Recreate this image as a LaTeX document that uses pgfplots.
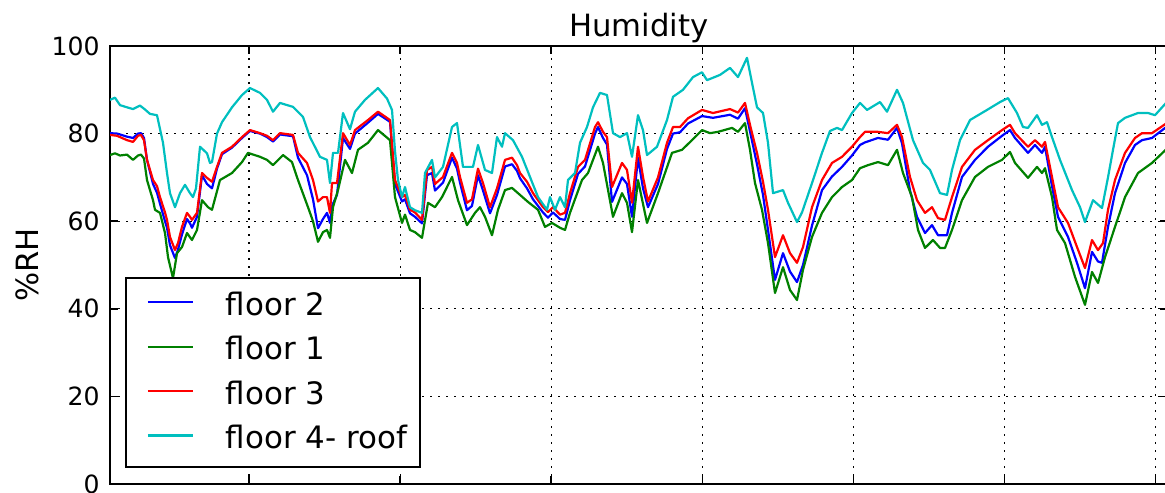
\documentclass[border=0pt]{standalone}
\usepackage{fontspec}
\setmainfont{DejaVu Sans}
\usepackage{pgfplots}
\pgfplotsset{compat=1.18}
\definecolor{mplb}{HTML}{0000FF}
\definecolor{mplg}{HTML}{008000}
\definecolor{mplr}{HTML}{FF0000}
\definecolor{mplc}{HTML}{00BFBF}
\begin{document}
\begin{tikzpicture}
\begin{axis}[
  name=ax, at={(0,0)}, anchor=south west,
  scale only axis, width=529bp, height=219bp,
  xmin=110, xmax=1168, ymin=0, ymax=100,
  xtick={249,400.1,551.2,702.3,853.4,1004.5,1155.6},
  xticklabels={},
  ytick={0,20,40,60,80,100},
  grid=major,
  grid style={black, line width=0.6bp, dash pattern=on 1bp off 3bp},
  axis line style={line width=1bp},
  tick style={black, line width=0.8bp},
  major tick length=4bp,
  tick align=inside,
  /pgf/number format/assume math mode=true,
  tick label style={font=\fontsize{12.6}{14}\selectfont},
  yticklabel style={inner sep=0pt, xshift=-5bp},
  title={Humidity},
  every axis title/.style={at={(0.5,1)}, anchor=base, yshift=4.5bp, inner sep=0pt, font=\fontsize{15.4}{18}\selectfont},
  ylabel={\%RH},
  ylabel style={at={(axis description cs:-0.0784,0.5)}, anchor=center, inner sep=0pt, font=\fontsize{15.4}{18}\selectfont},
  legend cell align=left,
  legend image code/.code={\path[draw=none] (0bp,0bp) -- (50bp,0bp); \draw[#1] (11bp,6.5bp) -- (33.5bp,6.5bp);},
  legend style={at={(0.01418,0.03653)}, anchor=south west, draw=black, line width=1bp, fill=white,
    inner xsep=0pt, inner ysep=6.7bp, row sep=7.7bp, column sep=0pt,
    font=\fontsize{15.5}{18}\selectfont,
    nodes={inner sep=0pt, text height=12bp, text depth=2.5bp, anchor=base west}},
  every axis plot/.append style={line width=1.1bp, line join=round},
]
% floor 2
\addplot[mplb] coordinates {
(110,80.1)(117,80)(120,79.8)(127,79.3)(133,79)(138,80)(141,80.1)(144,79)(147,74)(153,68.5)(157,66.5)(160,64)(165,60)(167,58.5)(170,54.5)(175,51.6)(178,53.5)(182,57)(187,60.5)(190,59.5)(192,58.5)(197,61)(202,70.5)(207,68.5)(212,67.5)(217,72)(222,75.3)(232,76.8)(242,79)(250,80.6)(260,80)(267,79.2)(273,78.2)(280,79.8)(293,79.4)(298,74.5)(307,70.5)(313,65)(318,58.4)(323,60.5)(327,61.9)(330,59.6)(332,63.5)(337,66)(343,79)(350,76.5)(355,80)(368,82.5)(378,84.5)(390,82.7)(395,68.5)(402,64.5)(405,65)(410,61.8)(415,61)(422,59.5)(427,70.5)(432,71)(435,67)(443,68.8)(452,74.5)(457,72)(460,68.8)(467,62.5)(472,63.5)(478,70.5)(483,67)(490,61.8)(497,66)(505,72.5)(512,73)(517,71.5)(520,69.8)(527,67.5)(533,65)(543,62)(548,60.8)(553,62)(560,60.5)(565,60.3)(570,64.8)(578,70.8)(585,72.5)(595,80)(598,81.5)(603,79)(607,77.5)(612,64.4)(622,70)(627,68.5)(632,61)(638,74.5)(643,67.5)(648,63.2)(658,68.5)(667,76.5)(673,80)(680,80.3)(688,82.3)(702,84)(713,83.6)(730,84.3)(738,83.4)(745,85.8)(750,80.5)(757,73)(763,66)(768,58)(775,46.6)(783,52.7)(790,48.5)(797,46.1)(803,50)(812,59)(822,67.1)(832,70.2)(842,72.4)(852,75)(860,77.4)(865,78)(878,79)(888,78.6)(897,81.3)(902,77.8)(910,67)(917,61)(925,57.3)(932,59.1)(938,56.8)(947,56.8)(952,61.9)(962,70.1)(975,74)(988,77)(1002,79.5)(1010,80.8)(1015,79)(1028,75.6)(1035,77.4)(1042,75.6)(1045,77)(1052,68)(1058,61)(1068,56.4)(1077,50.5)(1085,44.7)(1092,53)(1098,50.8)(1102,50.5)(1108,58.7)(1115,66.4)(1125,73.3)(1135,77.4)(1142,78.5)(1152,79)(1168,81.8)
};
\addlegendentry{floor 2}
% floor 1
\addplot[mplg] coordinates {
(110,75.1)(115,75.5)(120,75)(127,75.2)(133,74)(138,75)(141,75.2)(144,74.3)(147,69.4)(153,64.8)(155,62.6)(160,61.9)(165,57.3)(168,51.8)(173,47)(177,52.7)(182,54.1)(187,57.3)(192,55.7)(197,58)(202,64.8)(208,63.2)(212,62.6)(220,69.4)(232,71)(242,73.5)(248,75.6)(260,74.7)(267,74)(273,72.8)(283,75.1)(292,73.5)(298,69.4)(308,63.2)(313,60)(318,55.3)(323,57.5)(327,58)(330,56.2)(333,63.2)(338,67.1)(345,74)(352,71)(358,76.3)(368,77.9)(378,80.8)(390,78.5)(395,65.5)(402,59.6)(405,61.5)(410,58)(415,57.5)(422,56.2)(428,64.2)(435,63.2)(442,65.5)(452,70.1)(458,64.8)(467,59.1)(475,61.9)(480,63.2)(485,61)(492,56.8)(498,62.6)(505,67.1)(512,67.6)(518,66.4)(528,64.4)(538,62.6)(545,58.7)(552,59.6)(560,58.5)(565,58)(570,61.9)(582,69.4)(588,71)(598,77)(603,73.3)(613,61)(622,66.4)(627,64.2)(632,57.5)(638,69.4)(647,59.6)(658,66.4)(672,75.6)(682,76.3)(692,78.5)(702,80.8)(710,80.1)(718,80.4)(732,81.3)(738,80.4)(745,82.4)(750,76.3)(755,68.7)(762,62.6)(768,55)(775,43.6)(783,49.5)(790,44.3)(797,42)(803,48.9)(812,56.4)(822,61.9)(832,65.5)(842,67.8)(852,69.4)(860,72.1)(868,72.8)(878,73.5)(888,72.8)(897,76.3)(903,71)(912,65.5)(918,58)(925,53.9)(933,55.7)(940,53.9)(945,53.9)(952,58)(962,64.8)(975,70.1)(988,72.4)(1002,74)(1010,75.8)(1015,73.3)(1028,69.9)(1037,72.4)(1042,71)(1045,72.1)(1052,65.5)(1057,58)(1065,55)(1075,47.3)(1085,40.9)(1092,48.4)(1098,45.9)(1105,51.8)(1115,58.7)(1125,65.5)(1138,71)(1152,73.3)(1168,76.8)
};
\addlegendentry{floor 1}
% floor 3
\addplot[mplr] coordinates {
(110,79.7)(117,79.5)(120,79.2)(127,78.5)(133,78.1)(138,79.5)(141,79.7)(144,78.5)(147,74)(153,69.4)(157,68)(160,65.5)(165,62)(167,60.3)(170,56.4)(175,53.4)(178,55)(182,58.7)(187,61.9)(190,61)(192,60.3)(197,61.9)(202,71)(207,69.9)(212,69)(217,72.4)(222,75.6)(232,77)(242,79.2)(250,80.8)(260,80.1)(267,79.5)(273,78.5)(280,80.1)(293,79.7)(298,75.6)(307,73.3)(313,69.4)(318,64.5)(323,65.5)(327,65.5)(330,61.9)(332,68.7)(337,68.7)(343,80.1)(350,77.4)(355,80.8)(368,83.1)(378,85)(390,83.1)(395,69.4)(402,65.5)(405,66)(410,62.6)(415,62)(422,60.3)(427,71.7)(432,72.4)(435,68.5)(443,70.1)(452,75.6)(457,73.3)(460,70.1)(467,64.2)(472,65)(478,72)(483,68.7)(490,63.2)(497,67.5)(505,74)(512,74.5)(517,72.8)(520,71)(527,69)(533,66.4)(543,63.2)(548,62.1)(553,63.2)(560,61.5)(565,61.9)(570,66.4)(578,72.4)(585,74)(595,81.5)(598,82.6)(603,80.4)(607,79.2)(612,67.8)(622,73.3)(627,71.7)(632,64.2)(638,77)(643,70.1)(648,64.5)(658,70)(667,77.9)(673,81.5)(680,81.5)(688,83.5)(702,85.4)(713,84.7)(730,85.6)(738,84.8)(745,87)(750,82)(757,75.6)(763,69)(768,62.6)(775,51.8)(783,56.8)(790,52.7)(797,50.5)(803,54.1)(812,63.2)(822,69.4)(832,73.3)(842,74.7)(852,77)(860,79.2)(865,80.4)(878,80.4)(888,80.1)(897,82)(902,79.2)(910,70.1)(917,64.8)(925,61.9)(932,63.2)(938,60.7)(945,60.3)(952,65.5)(962,72.4)(975,76.3)(988,78.5)(1002,80.8)(1010,82)(1015,80.1)(1028,77)(1035,78.5)(1042,77)(1045,78.1)(1052,70.1)(1058,63.2)(1068,59.6)(1077,54.1)(1085,49.3)(1092,55.7)(1098,53.4)(1103,55)(1108,62.6)(1115,69.4)(1125,75.6)(1135,79)(1142,80.1)(1152,80.1)(1168,82.6)
};
\addlegendentry{floor 3}
% floor 4- roof
\addplot[mplc] coordinates {
(110,87.7)(115,88.2)(120,86.5)(127,86)(133,85.6)(140,86.4)(145,85.5)(150,84.5)(157,84.2)(163,77.9)(167,71)(170,66.4)(175,63.2)(180,66.4)(185,68.3)(190,66.4)(193,65.5)(196,67.5)(200,77)(207,75.5)(210,73.3)(212,73.5)(217,80)(222,82.6)(232,86)(242,88.8)(250,90.4)(260,89.3)(267,87.7)(273,85)(280,87)(293,86.1)(303,83.8)(310,79.2)(320,74.7)(327,74)(330,68.7)(333,75.6)(338,75.6)(343,84.7)(350,81)(355,85)(365,87.7)(378,90.4)(387,88)(392,85.4)(395,76)(398,69.4)(402,65.5)(405,67.8)(410,63.2)(415,62.5)(422,61.9)(425,71)(432,74)(435,70)(443,72.4)(452,81.5)(457,82.4)(463,72.4)(473,72.4)(478,77.4)(485,71.7)(492,71)(497,79.2)(502,77)(505,80.1)(513,78.5)(522,74.7)(530,70.1)(538,65.5)(547,62.6)(550,65.5)(555,62.6)(560,65.5)(565,63.2)(568,69.4)(575,71)(580,77.9)(587,81.5)(593,86)(600,89.3)(607,88.8)(613,80.1)(620,79.2)(627,80.1)(632,74.7)(638,84.2)(643,80.8)(647,75.1)(657,77)(667,83.1)(673,88.4)(683,90)(693,92.9)(702,94)(707,92.2)(720,93.4)(730,95)(738,92.9)(747,97.3)(752,91.6)(757,86)(763,84.7)(768,77.9)(773,66.4)(783,67.1)(788,64.2)(797,59.8)(802,62)(812,68.7)(822,75.6)(830,80.6)(837,81.3)(842,80.8)(852,84.7)(860,87)(867,85.4)(880,87.2)(887,85)(897,90)(903,87)(913,78.5)(923,73.3)(930,71.7)(940,66.4)(947,66)(952,71.7)(960,78.5)(970,83.1)(987,85.4)(1000,87.2)(1008,88.1)(1017,84.7)(1023,81.5)(1028,81.3)(1037,84.2)(1042,82)(1047,82.6)(1052,79.2)(1060,74)(1072,67.1)(1080,63.2)(1085,59.8)(1093,64.8)(1102,63)(1108,70)(1113,76.3)(1118,82.4)(1125,83.6)(1138,84.7)(1148,84.7)(1155,84.2)(1168,87.5)
};
\addlegendentry{floor 4- roof\hspace*{6.5bp}}
\end{axis}
\pgfresetboundingbox
\path[use as bounding box] ([shift={(-55bp,-4.5bp)}]ax.south west) rectangle ([shift={(-1.5bp,23bp)}]ax.north east);
\end{tikzpicture}
\end{document}
